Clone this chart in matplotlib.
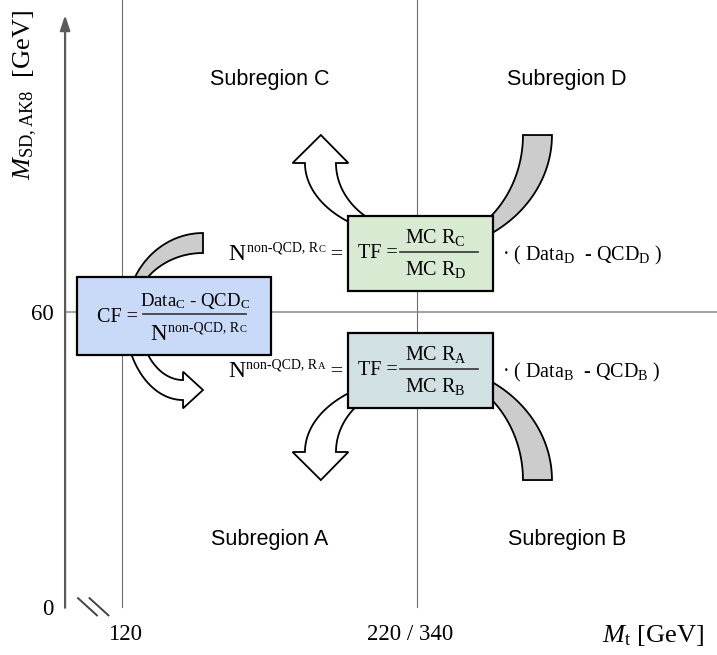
import matplotlib
matplotlib.use("Agg")
import matplotlib.pyplot as plt
import numpy as np
from matplotlib.patches import Polygon, Rectangle
from matplotlib.transforms import offset_copy

plt.rcParams.update({
    "font.family": "Liberation Serif",
    "mathtext.fontset": "custom",
    "mathtext.rm": "Liberation Serif",
    "mathtext.it": "Liberation Serif:italic",
    "mathtext.bf": "Liberation Serif:bold",
})

# ---- diagram content ----
x_cuts = [120, 220]                 # M_t cuts (schematic, broken axis)
x_cut_labels = ["120", "220 / 340"]
y_ticks = [0, 60]                   # M_SD cut
x_origin, x_end = 100.7, 322.5
y_top = 120.5

regions = ["Subregion C", "Subregion D", "Subregion A", "Subregion B"]

tf_num = [r"MC R$_\mathrm{C}$", r"MC R$_\mathrm{A}$"]
tf_den = [r"MC R$_\mathrm{D}$", r"MC R$_\mathrm{B}$"]
tf_rhs = [r"· ( Data$_\mathrm{D}$  - QCD$_\mathrm{D}$ )",
          r"· ( Data$_\mathrm{B}$  - QCD$_\mathrm{B}$ )"]
n_region = ["C", "A"]
cf_num = r"Data$_\mathrm{C}$ - QCD$_\mathrm{C}$"

AXIS = "#5a5a5a"
GRID = "#6e6e6e"

fig = plt.figure(figsize=(7.17, 6.55), dpi=100)
ax = fig.add_axes([0, 0, 1, 1])
ax.set_xlim(78.64, 321.69)
ax.set_ylim(-9.77, 123.58)
ax.axis("off")

# cut lines
for xc in x_cuts:
    ax.plot([xc, xc], [0, 123.58], color=GRID, lw=0.8, zorder=1)
ax.plot([x_origin, 321.69], [y_ticks[1], y_ticks[1]], color="#8a8a8a", lw=1.1, zorder=1)

# axes with arrows
arrow = dict(arrowstyle="-|>,head_length=0.9,head_width=0.3", mutation_scale=10,
             color=AXIS, lw=1.6, shrinkA=0, shrinkB=0)
ax.annotate("", xy=(x_origin, y_top), xytext=(x_origin, -0.15), arrowprops=arrow, zorder=3)
ax.annotate("", xy=(x_end, 0), xytext=(x_origin, 0), arrowprops=arrow, zorder=3)

# axis break marks
for xb in [105.1, 109.0]:
    ax.plot([xb, xb + 6.4], [1.8, -1.7], color="#444444", lw=1.4, zorder=3)

# tick labels
for yv in y_ticks:
    ax.text(96.8, yv, str(yv), ha="right", va="center_baseline", fontsize=16.5)
for xc, lab in zip(x_cuts, x_cut_labels):
    ax.text(xc + (1 if xc == 120 else -2.5), -5.1, lab, ha="center",
            va="center_baseline", fontsize=16.5)
ax.text(317.3, -5.1, r"$M_\mathrm{t}$ [GeV]", ha="right", va="center_baseline", fontsize=19)
ax.text(87.1, 104.2, r"$M_\mathrm{SD,AK8}$  [GeV]", rotation=90, ha="center",
        va="center", fontsize=19)

# region labels
mids = [(x_cuts[0] + x_cuts[1]) / 2, (x_cuts[1] + 321.69) / 2]
for i, name in enumerate(regions):
    ax.text(mids[i % 2], 107.3 if i < 2 else 13.8, name, ha="center", va="center",
            fontsize=15.5, family="Liberation Sans")


def band(center, inner, outer, t0, t1, fc, head=None):
    cx, cy = center
    t = np.radians(np.linspace(t0, t1, 90))
    out_pts = np.column_stack([cx + outer[0] * np.cos(t), cy + outer[1] * np.sin(t)])
    in_pts = np.column_stack([cx + inner[0] * np.cos(t), cy + inner[1] * np.sin(t)])[::-1]
    pts = [out_pts]
    if head is not None:
        tip, wing = head
        po, pi = out_pts[-1], in_pts[0]
        u = (po - pi) / np.linalg.norm(po - pi)
        pts.append(np.array([po + u * wing, tip, pi - u * wing]))
    pts.append(in_pts)
    ax.add_patch(Polygon(np.vstack(pts), closed=True, fc=fc, ec="black", lw=1.3, zorder=2))


# TF box arrows
band((221.0, 96.09), (34.92, 22.8), (44.75, 23.82), -90, 0, "#cccccc")
band((221.0, 25.85), (34.92, 22.8), (44.75, 23.82), 90, 0, "#cccccc")
band((221.0, 90.39), (28.47, 14.25), (38.98, 15.27), 270, 180, "white",
     head=((187.4, 96.09), 4.2))
band((221.0, 31.56), (28.47, 14.25), (38.98, 15.27), 90, 180, "white",
     head=((187.4, 25.85), 4.2))
# CF box arrows
band((147.45, 59.24), (23.73, 12.83), (26.1, 16.9), 90, 180, "#cccccc")
band((140.68, 59.24), (14.92, 13.03), (19.66, 17.1), 180, 270, "white",
     head=((147.45, 44.18), 1.7))

# boxes
box_style = dict(ec="black", lw=1.6, zorder=4)
ax.add_patch(Rectangle((196.6, 64.33), 49.2, 15.27, fc="#d9ead3", **box_style))
ax.add_patch(Rectangle((196.6, 40.51), 49.2, 15.27, fc="#d0e0e3", **box_style))
ax.add_patch(Rectangle((104.74, 51.30), 65.76, 15.88, fc="#c9daf8", **box_style))


def text_chain(x, y, pieces, ha="left"):
    rend = fig.canvas.get_renderer()
    made = []
    for s, size, rise, gap in pieces:
        t = ax.text(x, y, s, fontsize=size, va="baseline", ha="left", zorder=6)
        made.append((t, t.get_window_extent(rend).width, rise, gap))
    total = sum(w + g for _, w, _, g in made)
    pos = {"left": 0, "center": -total / 2, "right": -total}[ha]
    for t, w, rise, gap in made:
        t.set_transform(offset_copy(ax.transData, fig=fig, x=pos, y=rise, units="dots"))
        pos += w + gap


def n_pieces(sub, size):
    return [("N", size, 0, 1), ("non-QCD, R", 10, 9, 0.5), (sub, 7.5, 8, 0)]


# TF formulas
for k, bar_y in enumerate([72.33, 48.51]):
    ax.text(200.0, bar_y - 1.34, "TF =", fontsize=14.5, va="baseline", zorder=6)
    ax.plot([214.2, 240.7], [bar_y, bar_y], color="#333333", lw=1.2, zorder=6)
    ax.text(216.0, bar_y + 1.71, tf_num[k], fontsize=14.5, ha="left", va="baseline", zorder=6)
    ax.text(216.0, bar_y - 4.76, tf_den[k], fontsize=14.5, ha="left", va="baseline", zorder=6)
    ax.text(248.7, bar_y - 1.73, tf_rhs[k], fontsize=14.5, va="baseline", zorder=6)
    text_chain(195.0, bar_y - 1.73, n_pieces(n_region[k], 17) + [(" =", 16, 0, 0)], ha="right")

# CF formula
ax.text(111.4, 58.08, "CF =", fontsize=14.5, va="baseline", zorder=6)
ax.plot([127.0, 161.9], [59.59, 59.59], color="#333333", lw=1.2, zorder=6)
ax.text(144.6, 61.28, cf_num, fontsize=13.5, ha="center", va="baseline", zorder=6)
text_chain(146.0, 54.36, n_pieces("C", 16.5), ha="center")

fig.savefig("out.png", dpi=100)
